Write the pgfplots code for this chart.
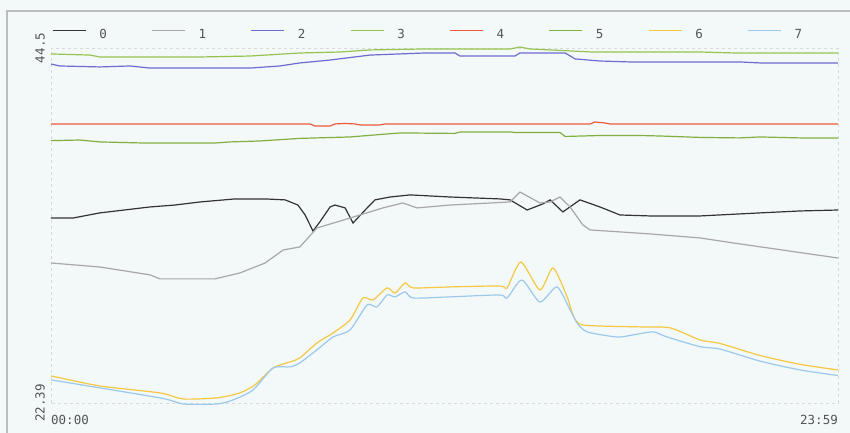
\documentclass[border=0pt]{standalone}
\usepackage{pgfplots}
\pgfplotsset{compat=1.18}
\usepackage{fontspec}
\setmainfont{DejaVu Sans Mono}
\definecolor{bgc}{HTML}{F3F8F8}
\definecolor{framec}{HTML}{BDBDBD}
\definecolor{labelc}{HTML}{555555}
\definecolor{c0}{HTML}{333333}
\definecolor{c1}{HTML}{A8A8A8}
\definecolor{c2}{HTML}{6C6CCF}
\definecolor{c3}{HTML}{96C450}
\definecolor{c4}{HTML}{EE5A3A}
\definecolor{c5}{HTML}{7FB040}
\definecolor{c6}{HTML}{F5C842}
\definecolor{c7}{HTML}{9CC8EC}
\begin{document}
\begin{tikzpicture}
\fill[bgc] (-51pt,-30pt) rectangle (799pt,403pt);
\useasboundingbox (-51pt,-30pt) rectangle (799pt,403pt);
\draw[framec, line width=1.5pt] (-44pt,-30pt) -- (-44pt,392pt) -- (799pt,392pt);
\begin{axis}[
  scale only axis, width=787pt, height=355pt,
  xmin=0, xmax=24, ymin=22.39, ymax=44.5,
  clip=false, no markers,
  axis line style={gray!30, dashed},
  major tick length=0pt,
  xtick={0}, xticklabels={00:00},
  extra x ticks={24}, extra x tick labels={23:59},
  extra x tick style={xticklabel style={anchor=north east}},
  ytick={22.39,44.5}, yticklabels={22.39,44.5},
  tick label style={font=\fontsize{12.5}{14}\selectfont, text=labelc},
  xticklabel style={anchor=north west, inner sep=0pt, yshift=-12pt},
  yticklabel style={rotate=90, anchor=south, inner sep=6pt},
  legend columns=8,
  legend image code/.code={\draw[#1, line width=1.3pt] (0pt,4.5pt) -- (33pt,4.5pt);},
  legend style={draw=none, fill=none, at={(axis description cs:0.00127,1.0366)}, anchor=west,
    inner sep=0pt, outer sep=0pt, font=\fontsize{12.5}{14}\selectfont, text=labelc,
    nodes={inner sep=0pt},
    /tikz/every odd column/.style={column sep=13pt},
    /tikz/every even column/.style={column sep=44.5pt}},
  every axis plot/.append style={line width=1.2pt},
]
% 0
\addplot[c0] coordinates {(0,33.91)(0.67,33.91)(1.49,34.23)(3.02,34.60)(3.78,34.72)(4.54,34.91)(5.61,35.10)(6.53,35.10)(7.14,35.04)(7.53,34.72)(7.75,34.10)(7.99,33.10)(8.20,33.67)(8.51,34.60)(8.66,34.72)(8.97,34.54)(9.21,33.60)(9.58,34.41)(9.88,35.04)(10.34,35.22)(10.95,35.35)(12.17,35.22)(13.69,35.10)(14.00,35.04)(14.52,34.41)(15.00,34.79)(15.22,35.04)(15.61,34.29)(16.13,35.04)(16.74,34.60)(17.35,34.10)(18.27,34.04)(19.79,34.04)(21.62,34.23)(22.84,34.35)(24.00,34.41)};
% 1
\addplot[c1] coordinates {(0,31.11)(1.49,30.86)(3.02,30.37)(3.32,30.12)(5.00,30.12)(5.76,30.49)(6.53,31.11)(7.08,31.92)(7.59,32.11)(8.11,33.29)(9.12,33.91)(10.12,34.54)(10.73,34.85)(11.16,34.54)(12.17,34.72)(14.00,34.91)(14.30,35.53)(14.91,34.85)(15.22,34.91)(15.52,35.22)(15.83,34.60)(16.22,33.48)(16.44,33.17)(18.27,32.92)(19.79,32.67)(20.80,32.36)(24.00,31.42)};
% 2
\addplot[c2] coordinates {(0,43.50)(0.27,43.38)(1.49,43.32)(2.41,43.38)(3.02,43.25)(6.07,43.25)(6.98,43.38)(7.59,43.57)(8.51,43.75)(9.73,44.06)(11.41,44.19)(12.32,44.19)(12.47,44.00)(14.15,44.00)(14.30,44.19)(15.68,44.19)(15.98,43.82)(16.74,43.69)(17.66,43.63)(21.01,43.63)(21.62,43.57)(24,43.57)};
% 3
\addplot[c3] coordinates {(0,44.13)(1.19,44.06)(1.49,43.94)(4.54,43.94)(6.07,44.00)(7.59,44.19)(8.81,44.25)(9.73,44.38)(11.41,44.44)(14.00,44.44)(14.30,44.56)(14.61,44.44)(16.50,44.25)(19.79,44.25)(20.86,44.19)(24,44.19)};
% 4
\addplot[c4] coordinates {(0,39.77)(7.90,39.77)(8.05,39.64)(8.51,39.64)(8.66,39.77)(8.97,39.80)(9.27,39.77)(9.42,39.71)(10.03,39.71)(10.19,39.77)(16.44,39.77)(16.59,39.89)(16.89,39.83)(17.05,39.77)(24,39.77)};
% 5
\addplot[c5] coordinates {(0,38.73)(0.88,38.77)(1.49,38.65)(2.87,38.58)(5.00,38.58)(5.46,38.65)(6.37,38.71)(7.59,38.87)(9.12,38.96)(10.03,39.11)(10.64,39.21)(12.32,39.18)(12.47,39.27)(14.00,39.27)(14.15,39.24)(15.52,39.24)(15.68,38.99)(16.74,39.05)(17.96,39.05)(18.57,39.02)(19.79,38.93)(21.01,38.90)(21.62,38.96)(22.84,38.90)(24,38.90)};
% 6
\addplot[c6, smooth, tension=0.4] coordinates {(0,24.08)(1.49,23.45)(3.32,23.02)(4.03,22.64)(5.06,22.71)(5.76,23.02)(6.22,23.52)(6.77,24.57)(7.29,24.95)(7.59,25.20)(8.11,26.13)(8.60,26.75)(9.12,27.56)(9.51,28.93)(9.82,28.81)(10.25,29.56)(10.49,29.24)(10.80,29.87)(11.04,29.56)(12.17,29.62)(13.69,29.68)(13.91,29.56)(14.33,31.17)(14.91,29.43)(15.31,30.80)(15.74,29.00)(15.92,27.87)(16.22,27.25)(17.96,27.13)(18.88,27.07)(19.79,26.32)(20.40,26.10)(21.62,25.35)(22.84,24.80)(24,24.45)};
% 7
\addplot[c7, smooth, tension=0.4] coordinates {(0,23.83)(3.32,22.71)(4.03,22.33)(5.06,22.33)(5.55,22.58)(6.16,23.20)(6.77,24.57)(7.29,24.64)(7.59,24.89)(8.11,25.70)(8.60,26.50)(9.12,26.94)(9.64,28.50)(9.94,28.37)(10.25,29.12)(10.49,29.00)(10.80,29.31)(11.04,28.93)(12.17,29.00)(13.69,29.12)(13.91,28.93)(14.36,30.05)(14.91,28.68)(15.43,29.62)(15.83,28.19)(16.04,27.38)(16.35,26.82)(17.26,26.50)(17.75,26.63)(18.36,26.82)(18.79,26.50)(19.79,25.90)(20.40,25.75)(21.62,25.00)(22.84,24.45)(24,24.10)};
\legend{0,1,2,3,4,5,6,7}
\end{axis}
\end{tikzpicture}
\end{document}
